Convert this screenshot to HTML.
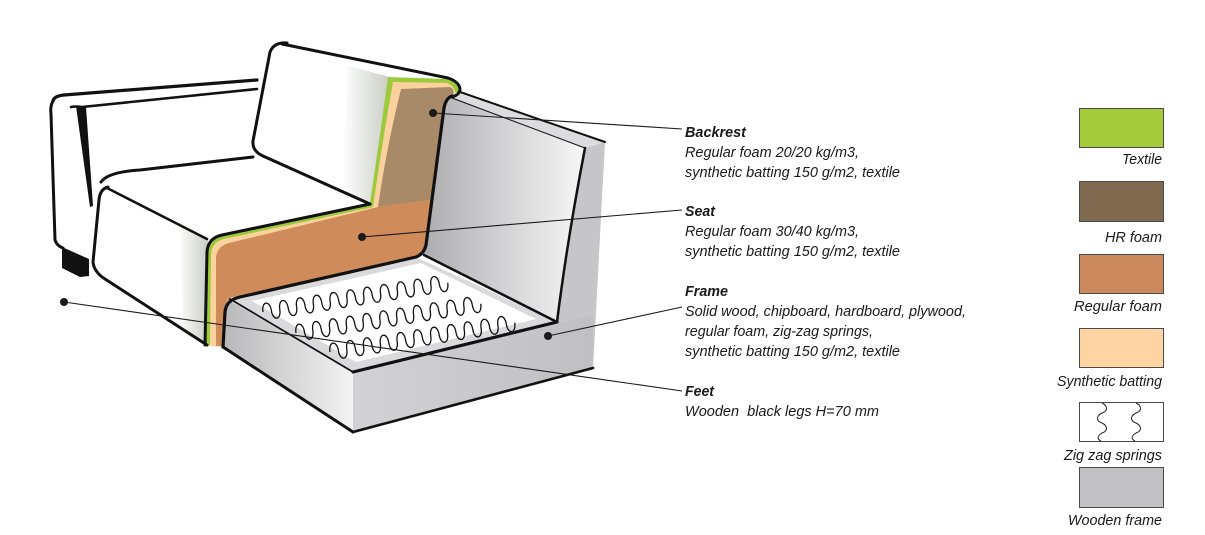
<!DOCTYPE html>
<html>
<head>
<meta charset="utf-8">
<style>
  html,body{margin:0;padding:0;background:#fff;}
  svg{display:block;}
  text{font-family:"Liberation Sans",Arial,sans-serif;font-style:italic;font-size:15px;fill:#1a1a1a;}
  .b{font-weight:bold;}
</style>
</head>
<body>
<svg width="1205" height="535" viewBox="0 0 1205 535" xmlns="http://www.w3.org/2000/svg">
  <defs>
    <linearGradient id="gPanel" x1="0" y1="0" x2="1" y2="0">
      <stop offset="0" stop-color="#aeaeb1"/>
      <stop offset="1" stop-color="#f7f7f7"/>
    </linearGradient>
    <linearGradient id="gLeft" x1="0" y1="0" x2="1" y2="0">
      <stop offset="0" stop-color="#b8b8ba"/>
      <stop offset="1" stop-color="#f3f3f3"/>
    </linearGradient>
    <linearGradient id="gFront" x1="0" y1="0" x2="1" y2="0">
      <stop offset="0" stop-color="#d2d2d4"/>
      <stop offset="1" stop-color="#c0c0c2"/>
    </linearGradient>
    <linearGradient id="gShade" x1="0" y1="0" x2="1" y2="0">
      <stop offset="0" stop-color="#ffffff"/>
      <stop offset="1" stop-color="#c9cdc5"/>
    </linearGradient>
  </defs>

  <!-- shading near cuts -->
  <path d="M348,66 L390,77 L372,204 L342,191 Z" fill="url(#gShade)"/>
  <path d="M178,226 L208,240 L206,345 L184,333 Z" fill="url(#gShade)"/>

  <!-- foam cut: green textile layer -->
  <path d="M388,77 L447,79 Q460,82 460,93 L446,103 L427,245 Q425,254 416,257 L240,297 Q226,300 225,312 L223,347 L206,345 L207,252 Q208,238 222,235 L370,203 Q378,150 388,77 Z" fill="#9dca3c"/>
  <!-- beige batting layer -->
  <path d="M393,82 L447,83 Q455,86 455,94 L446,103 L427,245 Q425,254 416,257 L240,297 Q226,300 225,312 L223,347 L210,346 L211,254 Q212,242 224,239 L373,207 Q381,150 393,82 Z" fill="#fbd29e"/>
  <!-- HR foam (backrest) -->
  <path d="M401,89 L450,87 Q455,89 453,96 L446,104 L433,200 L378,207 Q386,150 401,89 Z" fill="#a88a68"/>
  <!-- regular foam (seat) -->
  <path d="M378,207 L433,199 L427,245 Q425,254 416,257 L240,297 Q227,300 226,312 L224,346 L216,346 L216,258 Q217,246 229,243 Z" fill="#d08b5b"/>

  <!-- frame: right side + front -->
  <path d="M585,148 L605,142 L593,368 L353,432 L353,372 L557,322 Z" fill="#c6c6c8"/>
  <path d="M353,372 L593,315 L593,368 L353,432 Z" fill="url(#gFront)"/>
  <!-- left face -->
  <path d="M227,299 L223,347 L353,432 L353,372 Z" fill="url(#gLeft)"/>
  <!-- rim top -->
  <path d="M229,298 L416,257 L557,322 L353,372 Z" fill="#dadadc"/>
  <!-- white platform -->
  <path d="M252,301 L421,263 L536,319 L356,362 Z" fill="#ffffff"/>
  <!-- back panel -->
  <path d="M452,96 L585,148 C576,195 566,250 557,322 L424,255 L444,105 Z" fill="url(#gPanel)"/>
  <path d="M455,92 L605,142 L585,148 L452,97 Z" fill="#dcdcde"/>

  <!-- springs -->
  <g fill="none" stroke="#111" stroke-width="1.3">
    <path transform="translate(263,312) rotate(-9)" d="M0,0 c0,-11 8.5,-11 8.5,0 c0,11 8.5,11 8.5,0 c0,-11 8.5,-11 8.5,0 c0,11 8.5,11 8.5,0 c0,-11 8.5,-11 8.5,0 c0,11 8.5,11 8.5,0 c0,-11 8.5,-11 8.5,0 c0,11 8.5,11 8.5,0 c0,-11 8.5,-11 8.5,0 c0,11 8.5,11 8.5,0 c0,-11 8.5,-11 8.5,0 c0,11 8.5,11 8.5,0 c0,-11 8.5,-11 8.5,0 c0,11 8.5,11 8.5,0 c0,-11 8.5,-11 8.5,0 c0,11 8.5,11 8.5,0 c0,-11 8.5,-11 8.5,0 c0,11 8.5,11 8.5,0 c0,-11 8.5,-11 8.5,0 c0,11 8.5,11 8.5,0 c0,-11 8.5,-11 8.5,0 c0,11 8.5,11 8.5,0"/>
    <path transform="translate(296,333) rotate(-9)" d="M0,0 c0,-11 8.5,-11 8.5,0 c0,11 8.5,11 8.5,0 c0,-11 8.5,-11 8.5,0 c0,11 8.5,11 8.5,0 c0,-11 8.5,-11 8.5,0 c0,11 8.5,11 8.5,0 c0,-11 8.5,-11 8.5,0 c0,11 8.5,11 8.5,0 c0,-11 8.5,-11 8.5,0 c0,11 8.5,11 8.5,0 c0,-11 8.5,-11 8.5,0 c0,11 8.5,11 8.5,0 c0,-11 8.5,-11 8.5,0 c0,11 8.5,11 8.5,0 c0,-11 8.5,-11 8.5,0 c0,11 8.5,11 8.5,0 c0,-11 8.5,-11 8.5,0 c0,11 8.5,11 8.5,0 c0,-11 8.5,-11 8.5,0 c0,11 8.5,11 8.5,0 c0,-11 8.5,-11 8.5,0 c0,11 8.5,11 8.5,0"/>
    <path transform="translate(330,352) rotate(-9)" d="M0,0 c0,-11 8.5,-11 8.5,0 c0,11 8.5,11 8.5,0 c0,-11 8.5,-11 8.5,0 c0,11 8.5,11 8.5,0 c0,-11 8.5,-11 8.5,0 c0,11 8.5,11 8.5,0 c0,-11 8.5,-11 8.5,0 c0,11 8.5,11 8.5,0 c0,-11 8.5,-11 8.5,0 c0,11 8.5,11 8.5,0 c0,-11 8.5,-11 8.5,0 c0,11 8.5,11 8.5,0 c0,-11 8.5,-11 8.5,0 c0,11 8.5,11 8.5,0 c0,-11 8.5,-11 8.5,0 c0,11 8.5,11 8.5,0 c0,-11 8.5,-11 8.5,0 c0,11 8.5,11 8.5,0 c0,-11 8.5,-11 8.5,0 c0,11 8.5,11 8.5,0 c0,-11 8.5,-11 8.5,0 c0,11 8.5,11 8.5,0"/>
  </g>

  <!-- black outlines -->
  <g fill="none" stroke="#111" stroke-linecap="round" stroke-linejoin="round">
    <!-- armrest -->
    <path d="M53,101 Q54,96 64,95 L257,80" stroke-width="3.2"/>
    <path d="M71,107 Q76,106 82,107 L257,89" stroke-width="2.6"/>
    <path d="M53,101 Q50,106 51,114 L55,240 Q57,246 63,248" stroke-width="3"/>
    <!-- seat cushion -->
    <path d="M101,182 Q108,172 140,170 L253,157" stroke-width="3"/>
    <path d="M108,187 Q100,189 99,200 L93,262 Q94,272 105,279 L207,345" stroke-width="3"/>
    <path d="M107,188 L207,239" stroke-width="2.5"/>
    <!-- backrest cushion -->
    <path d="M287,43 Q274,42 270,52 L253,141 Q252,151 263,156 L370,204" stroke-width="3"/>
    <path d="M282,44 L448,78 Q460,82 460,90 Q459,95 452,97" stroke-width="3"/>
    <!-- cut outer edge -->
    <path d="M370,204 L222,235 Q208,238 207,252 L205,345" stroke-width="3"/>
    <!-- panel left + foam bottom -->
    <path d="M452,96 Q446,98 444,108 L426,245 Q424,254 416,257 L240,297 Q226,300 225,312 L223,347" stroke-width="3.2"/>
    <!-- frame edges -->
    <path d="M460,92 L605,142" stroke-width="2"/>
    <path d="M452,98 L585,148" stroke-width="1"/>
    <path d="M585,148 C576,195 566,250 557,322" stroke-width="2.5"/>
    <path d="M424,255 L557,322" stroke-width="2.5"/>
    <path d="M353,372 L557,322" stroke-width="3.2"/>
    <path d="M353,432 L593,368" stroke-width="2.6"/>
    <path d="M223,347 L353,432" stroke-width="3"/>
    <path d="M230,299 L353,372" stroke-width="1.8"/>
  </g>
  <!-- armrest inner taper & foot -->
  <path d="M76,106 L86,107 L93,206 L90,207 Z" fill="#111"/>
  <path d="M62,247 L89,259 L89,276 L80,277 L62,268 Z" fill="#111"/>

  <!-- connectors -->
  <g stroke="#1a1a1a" stroke-width="1.1">
    <line x1="433" y1="113" x2="682" y2="129"/>
    <line x1="362" y1="237" x2="682" y2="210"/>
    <line x1="548" y1="336" x2="682" y2="307"/>
    <line x1="64" y1="302" x2="682" y2="391"/>
  </g>
  <g fill="#1a1a1a">
    <circle cx="433" cy="113" r="4"/>
    <circle cx="362" cy="237" r="4"/>
    <circle cx="548" cy="336" r="4"/>
    <circle cx="64" cy="302" r="4"/>
  </g>

  <!-- description text -->
  <text class="b" x="685" y="137" textLength="61" lengthAdjust="spacingAndGlyphs">Backrest</text>
  <text x="685" y="157" textLength="174" lengthAdjust="spacingAndGlyphs">Regular foam 20/20 kg/m3,</text>
  <text x="685" y="177" textLength="215" lengthAdjust="spacingAndGlyphs">synthetic batting 150 g/m2, textile</text>

  <text class="b" x="685" y="216" textLength="30" lengthAdjust="spacingAndGlyphs">Seat</text>
  <text x="685" y="236" textLength="174" lengthAdjust="spacingAndGlyphs">Regular foam 30/40 kg/m3,</text>
  <text x="685" y="256" textLength="215" lengthAdjust="spacingAndGlyphs">synthetic batting 150 g/m2, textile</text>

  <text class="b" x="685" y="296" textLength="43" lengthAdjust="spacingAndGlyphs">Frame</text>
  <text x="685" y="316" textLength="281" lengthAdjust="spacingAndGlyphs">Solid wood, chipboard, hardboard, plywood,</text>
  <text x="685" y="336" textLength="188" lengthAdjust="spacingAndGlyphs">regular foam, zig-zag springs,</text>
  <text x="685" y="356" textLength="215" lengthAdjust="spacingAndGlyphs">synthetic batting 150 g/m2, textile</text>

  <text class="b" x="685" y="396" textLength="29" lengthAdjust="spacingAndGlyphs">Feet</text>
  <text x="685" y="416" textLength="194" lengthAdjust="spacingAndGlyphs" xml:space="preserve">Wooden  black legs H=70 mm</text>

  <!-- legend -->
  <g stroke="#4a4a4a" stroke-width="1">
    <rect x="1079.5" y="108.5" width="84" height="39" fill="#a4cc3a"/>
    <rect x="1079.5" y="181.5" width="84" height="40" fill="#7f6a50"/>
    <rect x="1079.5" y="254.5" width="84" height="39" fill="#cc8a5c"/>
    <rect x="1079.5" y="328.5" width="84" height="39" fill="#fdd4a2"/>
    <rect x="1079.5" y="402.5" width="84" height="39" fill="#ffffff"/>
    <rect x="1079.5" y="467.5" width="84" height="40" fill="#c1c1c3"/>
  </g>
  <g fill="none" stroke="#222" stroke-width="1">
    <path d="M1102,403 c6,3 6,8 0,10 c-6,3 -6,8 0,10 c6,3 6,8 0,10 c-5,3 -5,6 -1,8"/>
    <path d="M1136,403 c6,3 6,8 0,10 c-6,3 -6,8 0,10 c6,3 6,8 0,10 c-5,3 -5,6 -1,8"/>
  </g>
  <g text-anchor="end">
    <text x="1162" y="164" textLength="40" lengthAdjust="spacingAndGlyphs">Textile</text>
    <text x="1162" y="242" textLength="57" lengthAdjust="spacingAndGlyphs">HR foam</text>
    <text x="1162" y="311" textLength="88" lengthAdjust="spacingAndGlyphs">Regular foam</text>
    <text x="1162" y="386" textLength="105" lengthAdjust="spacingAndGlyphs">Synthetic batting</text>
    <text x="1162" y="460" textLength="98" lengthAdjust="spacingAndGlyphs">Zig zag springs</text>
    <text x="1162" y="525" textLength="94" lengthAdjust="spacingAndGlyphs">Wooden frame</text>
  </g>
</svg>
</body>
</html>
